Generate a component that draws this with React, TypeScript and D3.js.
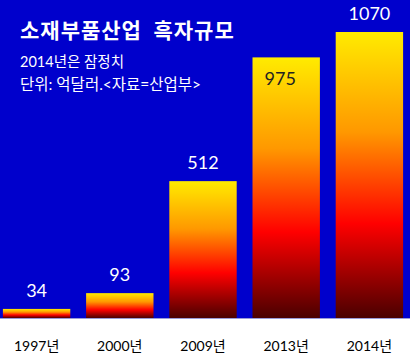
import React, { useEffect, useRef } from "react";
import * as d3 from "d3";

const categories = ["1997년", "2000년", "2009년", "2013년", "2014년"];
const values = [34, 93, 512, 975, 1070];
const labelInside = [false, false, false, true, false];
const title = "소재부품산업  흑자규모";
const subtitle1 = "2014년은 잠정치";
const subtitle2 = "단위: 억달러.<자료=산업부>";

const W = 410;
const H = 358;
const BASE = 318;

export default function App() {
  const ref = useRef<SVGSVGElement | null>(null);

  useEffect(() => {
    const svg = d3.select(ref.current);
    svg.selectAll("*").remove();

    const font = "Lato, 'Noto Sans CJK KR', sans-serif";

    const defs = svg.append("defs");
    const grad = defs
      .append("linearGradient")
      .attr("id", "fire")
      .attr("x1", 0)
      .attr("y1", 0)
      .attr("x2", 0)
      .attr("y2", 1);
    [
      [0, "#FFEB00"],
      [0.35, "#FF9800"],
      [0.67, "#FF0000"],
      [1, "#4A0000"],
    ].forEach(([o, c]) => grad.append("stop").attr("offset", o as number).attr("stop-color", c as string));

    svg.append("rect").attr("x", 0).attr("y", 0).attr("width", W).attr("height", H).attr("fill", "#ffffff");
    svg.append("rect").attr("x", 0).attr("y", 0).attr("width", W).attr("height", BASE).attr("fill", "#0000CC");
    svg
      .append("line")
      .attr("x1", 0)
      .attr("x2", W)
      .attr("y1", BASE + 0.5)
      .attr("y2", BASE + 0.5)
      .attr("stroke", "#9a9ad8")
      .attr("stroke-width", 1);

    const x = d3
      .scaleBand<string>()
      .domain(categories)
      .range([-5, 411])
      .paddingInner(0.19)
      .paddingOuter(0.095);
    const y = d3.scaleLinear().domain([0, 1070]).range([BASE, 32]);

    const g = svg.append("g");
    g.selectAll("rect.bar")
      .data(values)
      .join("rect")
      .attr("class", "bar")
      .attr("x", (_, i) => x(categories[i])!)
      .attr("y", (d) => y(d))
      .attr("width", x.bandwidth())
      .attr("height", (d) => BASE - y(d))
      .attr("fill", "url(#fire)");

    g.selectAll("text.val")
      .data(values)
      .join("text")
      .attr("class", "val")
      .attr("x", (_, i) => x(categories[i])! + x.bandwidth() / 2 - (labelInside[i] ? 6 : 0))
      .attr("y", (d, i) => (labelInside[i] ? y(d) + 28 : y(d) - 12))
      .attr("text-anchor", "middle")
      .attr("font-family", font)
      .attr("font-size", 18)
      .attr("fill", (_, i) => (labelInside[i] ? "#222222" : "#ffffff"))
      .text((d) => String(d));

    g.selectAll("text.cat")
      .data(categories)
      .join("text")
      .attr("class", "cat")
      .attr("x", (d) => x(d)! + x.bandwidth() / 2)
      .attr("y", 351)
      .attr("text-anchor", "middle")
      .attr("font-family", font)
      .attr("font-size", 14)
      .attr("fill", "#000000")
      .text((d) => d);

    svg
      .append("text")
      .attr("x", 20)
      .attr("y", 38)
      .attr("font-family", "'Noto Sans CJK KR', sans-serif")
      .attr("font-weight", "bold")
      .attr("font-size", 21)
      .attr("letter-spacing", 1)
      .attr("fill", "#ffffff")
      .attr("xml:space", "preserve")
      .style("white-space", "pre")
      .text(title);

    svg
      .append("text")
      .attr("x", 20)
      .attr("y", 67)
      .attr("font-family", font)
      .attr("font-size", 14.5)
      .attr("fill", "#ffffff")
      .text(subtitle1);

    svg
      .append("text")
      .attr("x", 20)
      .attr("y", 90)
      .attr("font-family", font)
      .attr("font-size", 15.5)
      .attr("fill", "#ffffff")
      .text(subtitle2);
  }, []);

  return (
    <svg
      ref={ref}
      width={W}
      height={H}
      style={{ position: "fixed", left: 0, top: 0, display: "block" }}
    />
  );
}
